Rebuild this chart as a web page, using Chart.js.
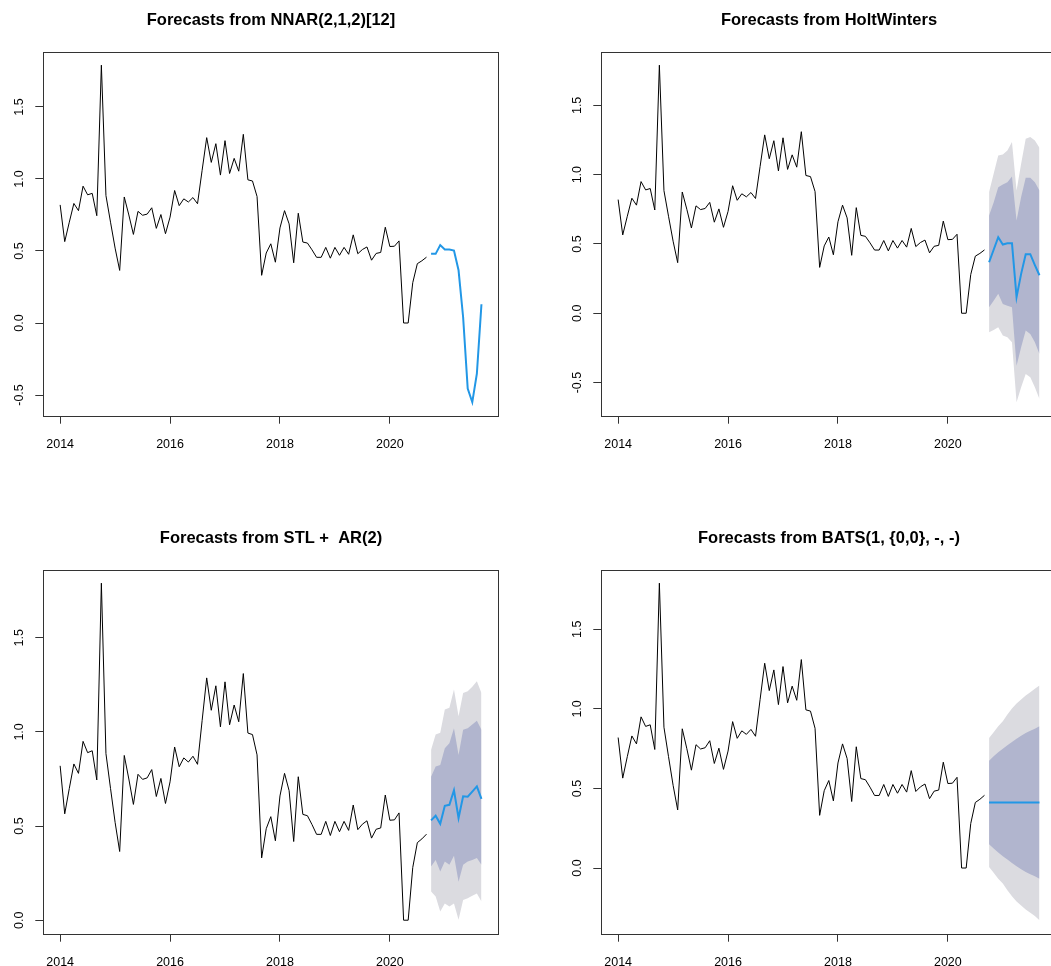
<!DOCTYPE html>
<html>
<head>
<meta charset="utf-8">
<script src="https://cdn.jsdelivr.net/npm/chart.js@4/dist/chart.umd.min.js"></script>
<style>
  html, body { margin: 0; padding: 0; background: #ffffff; overflow: hidden; }
  #wrap { position: relative; width: 1051px; height: 966px; overflow: hidden; background: #ffffff; }
  #wrap canvas { position: absolute; }
</style>
</head>
<body>
<div id="wrap">
  <canvas id="c1" width="542" height="483" style="left:0px;top:0px"></canvas>
  <canvas id="c2" width="542" height="483" style="left:558px;top:0px"></canvas>
  <canvas id="c3" width="542" height="483" style="left:0px;top:518px"></canvas>
  <canvas id="c4" width="542" height="483" style="left:558px;top:518px"></canvas>
</div>
<script>
// Monthly series, January 2014 to September 2020
const startYear = 2014;
const observed = [
  0.82, 0.565, 0.70, 0.83, 0.78, 0.95, 0.89, 0.90, 0.745, 1.79, 0.885, 0.70,
  0.52, 0.365, 0.875, 0.75, 0.615, 0.775, 0.748, 0.756, 0.80, 0.657, 0.753, 0.62,
  0.735, 0.92, 0.815, 0.862, 0.84, 0.871, 0.828, 1.06, 1.287, 1.115, 1.245, 1.027,
  1.266, 1.038, 1.143, 1.054, 1.31, 0.994, 0.986, 0.878, 0.331, 0.486, 0.55, 0.422,
  0.66, 0.78, 0.688, 0.418, 0.762, 0.562, 0.555, 0.508, 0.456, 0.456, 0.525, 0.45,
  0.525, 0.47, 0.525, 0.477, 0.612, 0.481, 0.51, 0.528, 0.436, 0.483, 0.49, 0.665,
  0.531, 0.533, 0.57, 0.0, 0.0, 0.28, 0.412, 0.432, 0.457
];

// Twelve-month forecasts, October 2020 to September 2021
const nnarMean = [0.48, 0.48, 0.541, 0.51, 0.51, 0.503, 0.366, 0.04, -0.456, -0.55, -0.352, 0.13];

const hwMean = [0.368, 0.458, 0.549, 0.496, 0.505, 0.505, 0.116, 0.284, 0.426, 0.426, 0.348, 0.274];
const hwLo80 = [0.043, 0.091, 0.14, 0.067, 0.055, 0.043, -0.378, -0.245, -0.125, -0.149, -0.209, -0.294];
const hwHi80 = [0.705, 0.80, 0.91, 0.929, 0.946, 0.987, 0.669, 0.838, 0.977, 0.977, 0.946, 0.886];
const hwLo95 = [-0.137, -0.12, -0.101, -0.161, -0.173, -0.209, -0.642, -0.534, -0.438, -0.462, -0.534, -0.619];
const hwHi95 = [0.874, 1.006, 1.138, 1.146, 1.174, 1.235, 0.886, 1.078, 1.259, 1.271, 1.247, 1.194];

const stlMean = [0.53, 0.555, 0.512, 0.608, 0.613, 0.69, 0.543, 0.658, 0.656, 0.683, 0.711, 0.644];
const stlLo80 = [0.285, 0.32, 0.259, 0.312, 0.294, 0.342, 0.204, 0.294, 0.312, 0.32, 0.33, 0.294];
const stlHi80 = [0.762, 0.816, 0.824, 0.913, 0.94, 1.02, 0.878, 1.011, 1.02, 1.04, 1.059, 1.011];
const stlLo95 = [0.152, 0.126, 0.046, 0.089, 0.073, 0.089, 0.002, 0.108, 0.117, 0.13, 0.142, 0.099];
const stlHi95 = [0.906, 0.987, 0.995, 1.119, 1.128, 1.225, 1.083, 1.207, 1.216, 1.24, 1.269, 1.207];

const batsMean = [0.412, 0.412, 0.412, 0.412, 0.412, 0.412, 0.412, 0.412, 0.412, 0.412, 0.412, 0.412];
const batsLo80 = [0.15, 0.122, 0.097, 0.074, 0.053, 0.032, 0.011, -0.008, -0.025, -0.039, -0.052, -0.067];
const batsHi80 = [0.674, 0.702, 0.727, 0.75, 0.771, 0.792, 0.813, 0.832, 0.849, 0.863, 0.876, 0.891];
const batsLo95 = [0.007, -0.029, -0.067, -0.098, -0.14, -0.178, -0.21, -0.235, -0.26, -0.281, -0.302, -0.328];
const batsHi95 = [0.817, 0.853, 0.891, 0.922, 0.964, 1.002, 1.034, 1.059, 1.084, 1.105, 1.126, 1.147];

const xTicks = [2014, 2016, 2018, 2020];
const yTicks = [-0.5, 0, 0.5, 1.0, 1.5];

const titles = [
  'Forecasts from NNAR(2,1,2)[12]',
  'Forecasts from HoltWinters',
  'Forecasts from STL +  AR(2)',
  'Forecasts from BATS(1, {0,0}, -, -)'
];

const FONT = "'Liberation Sans', Arial, Helvetica, sans-serif";
const LINE_COL = '#000000';
const FC_COL = '#2297E6';
const SHADE80 = '#B1B5CE';
const SHADE95 = '#DBDBE0';
const AXIS_COL = '#333333';

// time stamp of a month index counted from January of startYear
const monthTime = i => startYear + i / 12;
const toPoints = (arr, offset) => arr.map((v, i) => ({ x: monthTime(i + offset), y: v }));

// frame around the plotting region
const boxPlugin = {
  id: 'plotBox',
  afterDraw(chart) {
    const a = chart.chartArea, ctx = chart.ctx;
    ctx.save();
    ctx.strokeStyle = AXIS_COL;
    ctx.lineWidth = 1;
    const l = Math.round(a.left) + 0.5, t = Math.round(a.top) + 0.5;
    const r = Math.round(a.right) + 0.5, b = Math.round(a.bottom) + 0.5;
    ctx.strokeRect(l, t, r - l, b - t);
    ctx.restore();
  }
};

const measureCtx = document.createElement('canvas').getContext('2d');
const TICK_SIZE = 12.5;

function makePanel(canvasId, title, mean, lo80, hi80, lo95, hi95) {
  const n0 = observed.length;
  const datasets = [
    { data: toPoints(observed, 0), borderColor: LINE_COL, borderWidth: 1, fill: false },
    { data: toPoints(mean, n0), borderColor: FC_COL, borderWidth: 2, fill: false }
  ];
  if (lo80) {
    datasets.push(
      { data: toPoints(hi80, n0), borderColor: 'rgba(0,0,0,0)', borderWidth: 0, backgroundColor: SHADE80, fill: '+1' },
      { data: toPoints(lo80, n0), borderColor: 'rgba(0,0,0,0)', borderWidth: 0, fill: false },
      { data: toPoints(hi95, n0), borderColor: 'rgba(0,0,0,0)', borderWidth: 0, backgroundColor: SHADE95, fill: '+1' },
      { data: toPoints(lo95, n0), borderColor: 'rgba(0,0,0,0)', borderWidth: 0, fill: false }
    );
  }

  // axis limits: data range widened by 4% on each side
  const allY = observed.concat(mean, lo95 || [], hi95 || []);
  const yLo = Math.min(...allY), yHi = Math.max(...allY);
  const yPad = (yHi - yLo) * 0.04;
  const yMin = yLo - yPad, yMax = yHi + yPad;
  const tEnd = monthTime(n0 + mean.length - 1);
  const xPad = (tEnd - startYear) * 0.04;
  const xMin = startYear - xPad, xMax = tEnd + xPad;

  const shownY = yTicks.filter(v => v >= yMin && v <= yMax);
  measureCtx.font = TICK_SIZE + 'px ' + FONT;
  const widest = Math.max(...shownY.map(v => measureCtx.measureText(v.toFixed(1)).width));
  const yPadding = 15.3 - widest / 2;

  return new Chart(document.getElementById(canvasId), {
    type: 'line',
    data: { datasets },
    plugins: [boxPlugin],
    options: {
      responsive: false,
      animation: false,
      devicePixelRatio: 1,
      layout: { padding: 0 },
      elements: { point: { radius: 0 }, line: { tension: 0 } },
      plugins: {
        legend: { display: false },
        tooltip: { enabled: false },
        title: {
          display: true, text: title, color: '#000000',
          font: { family: FONT, size: 16.5, weight: 'bold', lineHeight: 1.2 },
          padding: { top: 10.2, bottom: 21.7 }
        }
      },
      scales: {
        x: {
          type: 'linear', min: xMin, max: xMax, bounds: 'data',
          afterBuildTicks: s => { s.ticks = xTicks.map(v => ({ value: v })); },
          afterFit: s => { s.height = 67.3; },
          grid: { display: true, drawOnChartArea: false, drawTicks: true, tickLength: 8, color: AXIS_COL, lineWidth: 1 },
          border: { display: false },
          ticks: {
            color: '#000000', font: { family: FONT, size: TICK_SIZE },
            padding: 13, maxRotation: 0, minRotation: 0, autoSkip: false,
            callback: v => String(v)
          }
        },
        y: {
          type: 'linear', position: 'left', min: yMin, max: yMax, bounds: 'data',
          afterBuildTicks: s => { s.ticks = shownY.map(v => ({ value: v })); },
          afterFit: s => { s.width = 43.3; },
          grid: { display: true, drawOnChartArea: false, drawTicks: true, tickLength: 8, color: AXIS_COL, lineWidth: 1 },
          border: { display: false },
          ticks: {
            color: '#000000', font: { family: FONT, size: TICK_SIZE },
            padding: yPadding, minRotation: 90, maxRotation: 90, crossAlign: 'center', autoSkip: false,
            callback: v => v.toFixed(1)
          }
        },
        // empty right-hand margin so the title sits centred over the plot
        margin: {
          type: 'linear', position: 'right', display: true,
          afterFit: s => { s.width = 43.7; },
          grid: { display: false }, border: { display: false }, ticks: { display: false }
        }
      }
    }
  });
}

makePanel('c1', titles[0], nnarMean, null, null, null, null);
makePanel('c2', titles[1], hwMean, hwLo80, hwHi80, hwLo95, hwHi95);
makePanel('c3', titles[2], stlMean, stlLo80, stlHi80, stlLo95, stlHi95);
makePanel('c4', titles[3], batsMean, batsLo80, batsHi80, batsLo95, batsHi95);
</script>
</body>
</html>
